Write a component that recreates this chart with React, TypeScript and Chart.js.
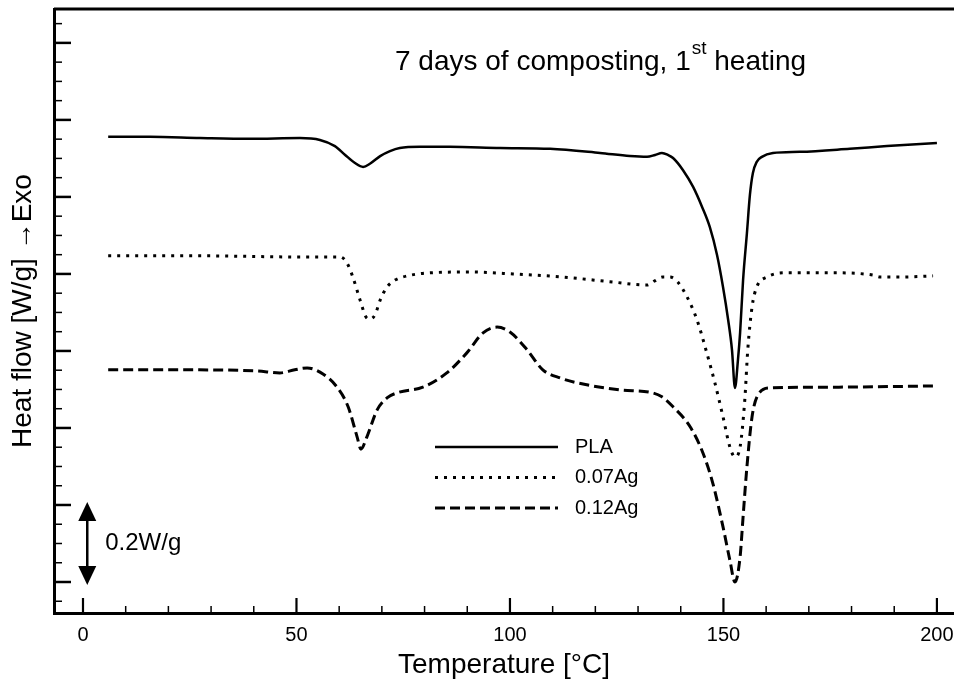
import { useEffect, useRef } from "react";
import { Chart, registerables } from "chart.js";

Chart.register(...registerables);

// DSC curves, 1st heating after 7 days of composting (heat flow in W/g, offset per curve)
const plaTemp = [5.9, 15.7, 27.4, 39.1, 50.8, 55.5, 59.0, 61.4, 63.7, 65.6, 67.2, 69.6, 71.9, 74.2, 78.9, 85.9, 97.7, 109.4, 121.1, 128.1, 132.1, 134.0, 135.6, 137.0, 138.2, 140.5, 142.9, 145.0, 146.8, 148.5, 149.9, 151.1, 152.0, 152.7, 153.4, 153.9, 154.6, 155.5, 156.2, 156.9, 157.8, 159.0, 161.6, 167.9, 179.6, 188.3, 200.0];
const plaFlow = [1.156, 1.156, 1.153, 1.151, 1.153, 1.148, 1.132, 1.109, 1.088, 1.078, 1.086, 1.106, 1.119, 1.127, 1.13, 1.13, 1.127, 1.125, 1.114, 1.106, 1.104, 1.109, 1.114, 1.109, 1.101, 1.07, 1.026, 0.974, 0.922, 0.849, 0.766, 0.681, 0.603, 0.504, 0.577, 0.647, 0.784, 0.906, 1.005, 1.062, 1.091, 1.104, 1.114, 1.117, 1.125, 1.132, 1.14];

const ag07Temp = [5.9, 27.4, 50.8, 60.2, 61.8, 63.2, 64.9, 66.3, 67.2, 68.4, 69.6, 71.2, 73.1, 74.9, 81.3, 90.6, 100.7, 112.4, 124.1, 132.1, 133.9, 135.8, 137.5, 139.3, 141.5, 143.8, 146.1, 148.0, 149.9, 151.5, 152.7, 153.9, 155.0, 155.7, 156.7, 157.8, 160.2, 164.9, 175.6, 185.0, 186.7, 191.3, 199.1];
const ag07Flow = [0.847, 0.847, 0.844, 0.844, 0.829, 0.792, 0.732, 0.688, 0.683, 0.694, 0.732, 0.766, 0.784, 0.792, 0.803, 0.805, 0.8, 0.792, 0.779, 0.771, 0.782, 0.792, 0.792, 0.779, 0.74, 0.681, 0.595, 0.517, 0.429, 0.351, 0.325, 0.351, 0.473, 0.603, 0.714, 0.766, 0.792, 0.803, 0.803, 0.797, 0.792, 0.792, 0.795];

const ag12Temp = [5.9, 22.7, 40.7, 46.1, 49.6, 52.5, 55.5, 59.5, 62.1, 64.2, 65.1, 66.5, 68.9, 71.2, 73.5, 79.6, 85.2, 89.9, 93.7, 97.0, 100.0, 104.0, 107.7, 111.7, 118.0, 125.8, 133.5, 135.6, 138.2, 142.2, 145.2, 147.5, 149.9, 151.5, 152.7, 153.9, 154.6, 155.5, 156.7, 158.1, 160.9, 175.6, 199.1];
const ag12Flow = [0.551, 0.551, 0.548, 0.543, 0.551, 0.556, 0.545, 0.506, 0.455, 0.377, 0.345, 0.377, 0.447, 0.478, 0.491, 0.506, 0.543, 0.595, 0.647, 0.662, 0.649, 0.603, 0.551, 0.53, 0.512, 0.499, 0.491, 0.481, 0.455, 0.403, 0.335, 0.257, 0.143, 0.057, 0.0, 0.065, 0.169, 0.299, 0.429, 0.486, 0.504, 0.506, 0.509];

const seriesLabels = ["PLA", "0.07Ag", "0.12Ag"];
const xMajorTicks = [0, 50, 100, 150, 200];
const yMajorTicks = [0, 0.2, 0.4, 0.6, 0.8, 1.0, 1.2, 1.4];
const scaleBar = [0, 0.2]; // W/g span of the scale arrow

const FONT = "'Liberation Sans', Arial, Helvetica, sans-serif";

const toPoints = (xs: number[], ys: number[]) => xs.map((x, i) => ({ x, y: ys[i] }));

const decorPlugin = {
  id: "decor",
  afterDraw(chart: any) {
    const { ctx, chartArea, scales } = chart;
    const xs = scales.x;
    const ys = scales.y;
    ctx.save();
    ctx.strokeStyle = "#000";
    ctx.fillStyle = "#000";

    // top frame line
    ctx.lineWidth = 3;
    ctx.beginPath();
    ctx.moveTo(chartArea.left, chartArea.top);
    ctx.lineTo(chartArea.right, chartArea.top);
    ctx.stroke();

    // inward ticks
    xs.ticks.forEach((t: any) => {
      const px = xs.getPixelForValue(t.value);
      const major = xMajorTicks.includes(t.value);
      ctx.lineWidth = major ? 2.2 : 1.5;
      ctx.beginPath();
      ctx.moveTo(px, chartArea.bottom);
      ctx.lineTo(px, chartArea.bottom - (major ? 15 : 7));
      ctx.stroke();
    });
    ys.ticks.forEach((t: any) => {
      const py = ys.getPixelForValue(t.value);
      const major = yMajorTicks.some((m) => Math.abs(m - t.value) < 1e-6);
      ctx.lineWidth = major ? 2.5 : 1.5;
      ctx.beginPath();
      ctx.moveTo(chartArea.left, py);
      ctx.lineTo(chartArea.left + (major ? 17 : 8), py);
      ctx.stroke();
    });

    // scale arrow
    const ax = xs.getPixelForValue(1);
    const yTop = ys.getPixelForValue(scaleBar[1]) - 3;
    const yBot = ys.getPixelForValue(scaleBar[0]) + 3;
    ctx.lineWidth = 2.5;
    ctx.beginPath();
    ctx.moveTo(ax, yTop + 10);
    ctx.lineTo(ax, yBot - 10);
    ctx.stroke();
    ctx.beginPath();
    ctx.moveTo(ax, yTop);
    ctx.lineTo(ax - 9, yTop + 19);
    ctx.lineTo(ax + 9, yTop + 19);
    ctx.closePath();
    ctx.fill();
    ctx.beginPath();
    ctx.moveTo(ax, yBot);
    ctx.lineTo(ax - 9, yBot - 19);
    ctx.lineTo(ax + 9, yBot - 19);
    ctx.closePath();
    ctx.fill();
    ctx.font = `24px ${FONT}`;
    ctx.textBaseline = "middle";
    ctx.textAlign = "left";
    ctx.fillText("0.2W/g", ax + 18, (yTop + yBot) / 2);

    // annotation title with superscript
    ctx.textBaseline = "alphabetic";
    let tx = 395;
    const ty = 70;
    ctx.font = `28px ${FONT}`;
    const part1 = "7 days of composting, 1";
    ctx.fillText(part1, tx, ty);
    tx += ctx.measureText(part1).width + 1;
    ctx.font = `19px ${FONT}`;
    ctx.fillText("st", tx, ty - 16);
    tx += ctx.measureText("st").width;
    ctx.font = `28px ${FONT}`;
    ctx.fillText(" heating", tx, ty);

    // legend
    ctx.font = `20px ${FONT}`;
    ctx.textBaseline = "middle";
    chart.data.datasets.forEach((ds: any, i: number) => {
      const ly = 447 + i * 30.5;
      ctx.lineWidth = ds.borderWidth;
      ctx.setLineDash(ds.borderDash || []);
      ctx.beginPath();
      ctx.moveTo(435, ly);
      ctx.lineTo(558, ly);
      ctx.stroke();
      ctx.setLineDash([]);
      ctx.fillText(ds.label, 575, ly);
    });
    ctx.restore();
  },
};

export default function App() {
  const canvasRef = useRef<HTMLCanvasElement>(null);
  const chartRef = useRef<Chart | null>(null);

  useEffect(() => {
    if (!canvasRef.current) return;
    if (chartRef.current) chartRef.current.destroy();

    const common = {
      borderColor: "#000",
      pointRadius: 0,
      fill: false,
      cubicInterpolationMode: "monotone" as const,
    };

    chartRef.current = new Chart(canvasRef.current, {
      type: "line",
      data: {
        datasets: [
          { ...common, label: seriesLabels[0], data: toPoints(plaTemp, plaFlow), borderWidth: 2.5 },
          { ...common, label: seriesLabels[1], data: toPoints(ag07Temp, ag07Flow), borderWidth: 3, borderDash: [3, 6] },
          { ...common, label: seriesLabels[2], data: toPoints(ag12Temp, ag12Flow), borderWidth: 3, borderDash: [10, 5] },
        ],
      },
      options: {
        responsive: false,
        animation: false,
        devicePixelRatio: 1,
        layout: { padding: { top: 9, left: 0, right: 0, bottom: 0 } },
        plugins: { legend: { display: false }, title: { display: false }, tooltip: { enabled: false } },
        scales: {
          x: {
            type: "linear",
            min: -6.79,
            max: 204.0,
            afterBuildTicks: (s: any) => {
              const t = [];
              for (let v = 0; v <= 200; v += 10) t.push({ value: v });
              s.ticks = t;
            },
            afterFit: (s: any) => {
              s.height = 71;
              s.paddingLeft = 0;
              s.paddingRight = 0;
            },
            grid: { display: false, drawTicks: false },
            border: { display: true, color: "#000", width: 3 },
            ticks: {
              autoSkip: false,
              maxRotation: 0,
              color: "#000",
              padding: 10,
              font: { family: FONT, size: 20 },
              callback: (v: any) => (xMajorTicks.includes(v) ? String(v) : ""),
            },
            title: {
              display: true,
              text: "Temperature [°C]",
              color: "#000",
              font: { family: FONT, size: 28 },
              padding: { top: 0, bottom: 2 },
            },
          },
          y: {
            type: "linear",
            min: -0.0805,
            max: 1.488,
            afterBuildTicks: (s: any) => {
              const t = [];
              for (let i = -1; i <= 29; i++) t.push({ value: Math.round(i * 5) / 100 });
              s.ticks = t;
            },
            afterFit: (s: any) => {
              s.width = 54;
              s.paddingTop = 0;
              s.paddingBottom = 0;
            },
            grid: { display: false, drawTicks: false },
            border: { display: true, color: "#000", width: 3 },
            ticks: { display: false },
            title: {
              display: true,
              text: "Heat flow [W/g] →Exo",
              color: "#000",
              font: { family: FONT, size: 28 },
              padding: { top: 6, bottom: 0 },
            },
          },
        },
      },
      plugins: [decorPlugin],
    });

    return () => {
      chartRef.current?.destroy();
      chartRef.current = null;
    };
  }, []);

  return (
    <div style={{ position: "absolute", left: 0, top: 0, width: 954, height: 684, background: "#fff" }}>
      <canvas ref={canvasRef} width={954} height={684} style={{ width: 954, height: 684 }} />
    </div>
  );
}
